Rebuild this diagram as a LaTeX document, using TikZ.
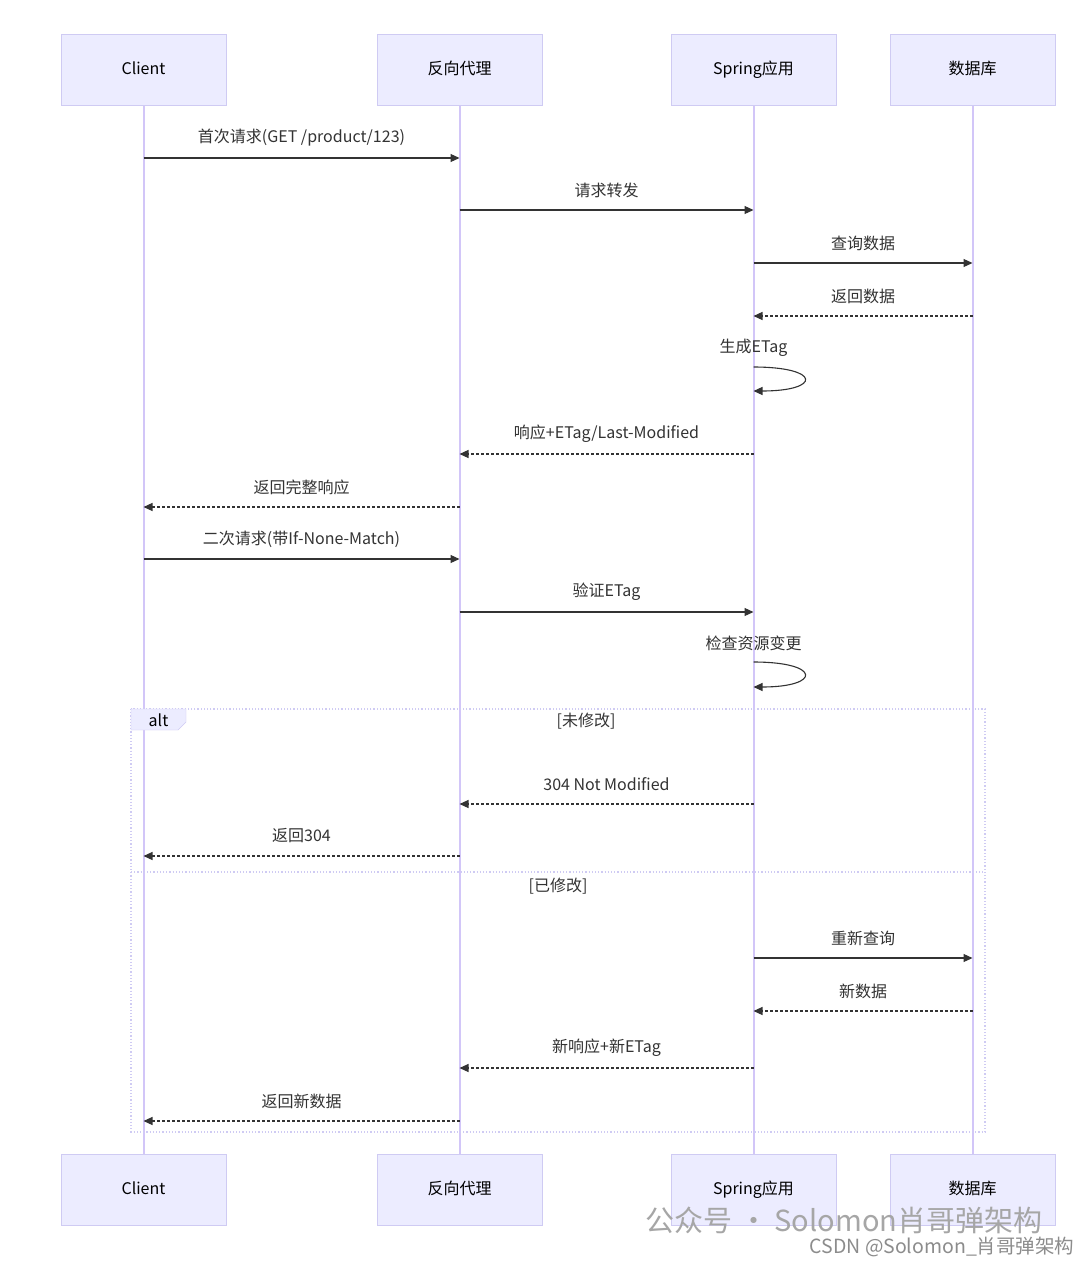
\documentclass[tikz,border=0pt]{standalone}
\usepackage{fontspec}
\setmainfont{Noto Sans CJK SC}
\usetikzlibrary{arrows.meta,calc}
\definecolor{boxfill}{HTML}{ECECFF}
\definecolor{boxline}{HTML}{CFCBF3}
\definecolor{life}{HTML}{D2C6F8}
\definecolor{txt}{HTML}{333333}
\tikzset{
 x=1pt,y=-1pt,
 actor/.style={draw=boxline,fill=boxfill,minimum width=165pt,minimum height=71pt,inner sep=0pt,text height=12pt,text depth=3pt,font=\fontsize{16}{18}\selectfont,text=black},
 lbl/.style={font=\fontsize{16}{18}\selectfont,text=txt,inner sep=1pt},
 msg/.style={draw=txt,line width=1.1pt,-{Triangle[length=9pt,width=8pt]}},
 rep/.style={msg,dash pattern=on 3pt off 2pt},
 lifeline/.style={draw=life,line width=2pt},
}
\newcommand\mymsg[5]{%
  \coordinate (m1) at ($(#2)+(0,#4)$);
  \coordinate (m2) at ($(#3)+(0,#4)$);
  \draw[#1] (m1) -- (m2);
  \node[lbl] at ($(m1)!0.5!(m2)+(0,-20)$) {#5};
}
\newcommand\myself[3]{%
  \coordinate (a1) at ($(s)+(0,#1)$);
  \coordinate (a2) at ($(s)+(0,#2)$);
  \draw[msg] (a1) .. controls ($(a1)+(68,0)$) and ($(a2)+(68,0)$) .. (a2);
  \node[lbl] at ($(a1)+(0,-19)$) {#3};
}
\begin{document}
\begin{tikzpicture}
\useasboundingbox[fill=white] (0,0) rectangle (1080,1264);
\foreach \n/\x/\t in {c/143.5/Client,p/459.5/反向代理,s/753.5/Spring应用,d/972.5/数据库}{
  \coordinate (\n) at (\x,0);
  \draw[lifeline] (\x,105) -- (\x,1154);
  \node[actor] (\n top) at (\x,69.5) {\t};
  \node[actor] (\n bot) at (\x,1189.5) {\t};
}
\draw[draw=boxline,line width=1.2pt,dotted] (131,709) rectangle (985,1132);
\draw[draw=boxline,fill=boxfill] (131,709) -- (186,709) -- (186,722) -- (178,730) -- (131,730) -- cycle;
\node[lbl,text=black] (alt) at (158.5,720) {alt};
\draw[draw=boxline,line width=1.2pt,dotted] (131,872) -- (985,872);
\node[lbl] (g1) at (586,721) {[未修改]};
\node[lbl] (g2) at (558,886) {[已修改]};
\mymsg{msg}{c}{p}{158}{首次请求(GET /product/123)}
\mymsg{msg}{p}{s}{210}{请求转发}
\mymsg{msg}{s}{d}{263}{查询数据}
\mymsg{rep}{d}{s}{316}{返回数据}
\myself{367}{391}{生成ETag}
\mymsg{rep}{s}{p}{454}{响应+ETag/Last-Modified}
\mymsg{rep}{p}{c}{507}{返回完整响应}
\mymsg{msg}{c}{p}{559}{二次请求(带If-None-Match)}
\mymsg{msg}{p}{s}{612}{验证ETag}
\myself{662}{687}{检查资源变更}
\mymsg{rep}{s}{p}{804}{304 Not Modified}
\mymsg{rep}{p}{c}{856}{返回304}
\mymsg{msg}{s}{d}{958}{重新查询}
\mymsg{rep}{d}{s}{1011}{新数据}
\mymsg{rep}{s}{p}{1068}{新响应+新ETag}
\mymsg{rep}{p}{c}{1121}{返回新数据}
\node[font=\fontsize{29}{32}\selectfont,text=black!35,anchor=east] (wm1) at (1046,1220) {公众号 · Solomon肖哥弹架构};
\node[font=\fontsize{19.5}{22}\selectfont,text=black!45,anchor=east] (wm2) at (1078,1247) {CSDN @Solomon\_肖哥弹架构};
\end{tikzpicture}
\end{document}
